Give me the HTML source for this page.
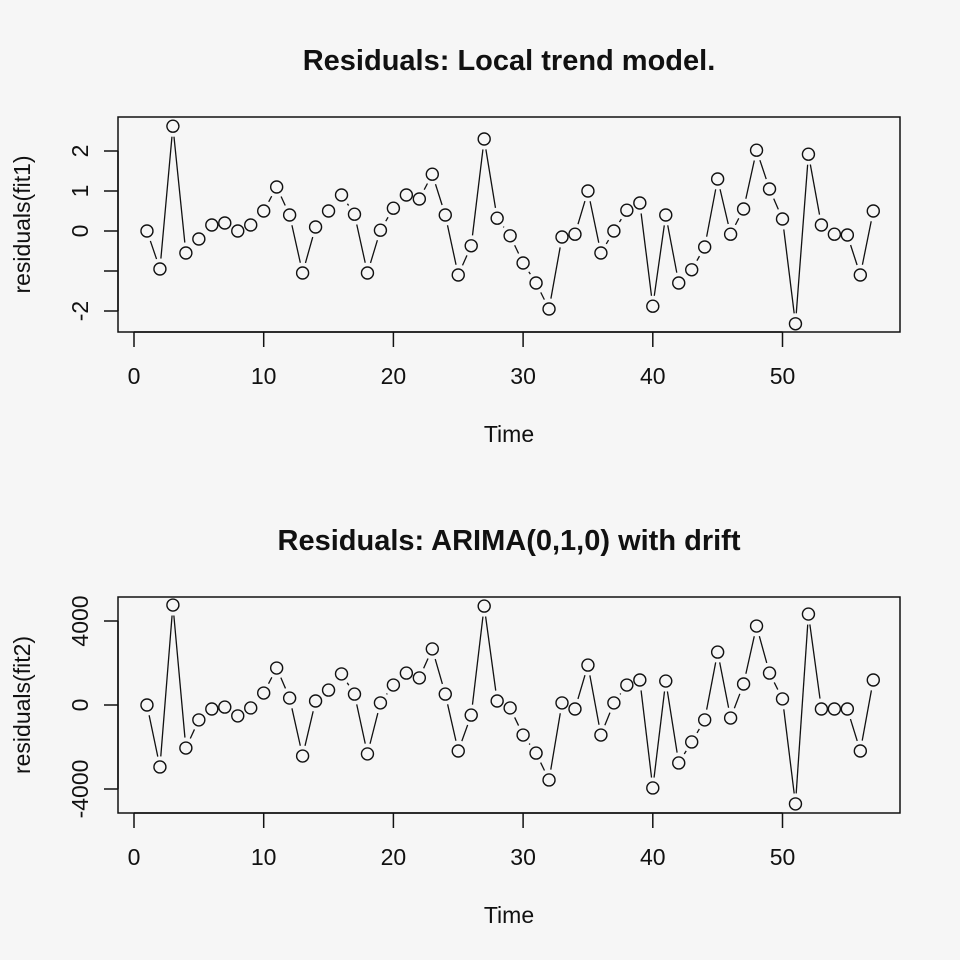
<!DOCTYPE html>
<html><head><meta charset="utf-8"><style>
html,body{margin:0;padding:0;background:#f6f6f6;}
svg{display:block;font-family:"Liberation Sans",sans-serif;}
</style></head><body>
<svg id="chart" width="960" height="960" viewBox="0 0 960 960"></svg>
<script>
const times = Array.from({length:57},(_,i)=>i+1);
const resid1 = [0,-0.95,2.62,-0.55,-0.2,0.15,0.2,0,0.15,0.5,1.1,0.4,-1.05,0.1,0.5,0.9,0.42,-1.05,0.02,0.57,0.9,0.8,1.42,0.4,-1.1,-0.37,2.3,0.32,-0.12,-0.8,-1.3,-1.95,-0.15,-0.08,1.0,-0.55,0,0.52,0.7,-1.88,0.4,-1.3,-0.97,-0.4,1.3,-0.08,0.55,2.02,1.05,0.3,-2.32,1.92,0.15,-0.08,-0.1,-1.1,0.5];
const resid2 = [0,-2950,4760,-2050,-710,-190,-100,-520,-140,570,1760,330,-2430,190,710,1480,520,-2330,100,950,1520,1290,2670,520,-2190,-480,4710,190,-140,-1430,-2290,-3570,100,-190,1900,-1430,100,950,1190,-3950,1140,-2760,-1760,-710,2520,-620,1000,3760,1520,290,-4710,4330,-190,-190,-190,-2190,1190];
const xTicks = [0,10,20,30,40,50];
const yTicks1 = [-2,-1,0,1,2];
const yLabels1 = ["-2","","0","1","2"];
const yTicks2 = [-4000,0,4000];
const yLabels2 = ["-4000","0","4000"];

const svg=document.getElementById('chart');
const NS='http://www.w3.org/2000/svg';
function mk(t,a){const e=document.createElementNS(NS,t);for(const k in a)e.setAttribute(k,a[k]);svg.appendChild(e);return e;}
const xs=v=>134+v*12.97;

function panel(p){
  const ys=v=>p.y0 - v*p.k;
  let e=mk('text',{x:509,y:p.titleY,'text-anchor':'middle','font-size':29,'font-weight':'bold',fill:'#111'});
  e.textContent=p.title;
  
  
  e=mk('rect',{x:118,y:p.top,width:782,height:p.bottom-p.top,fill:'none',stroke:'#111','stroke-width':1.5});
  
  
  e=mk('line',{x1:xs(0),x2:xs(50),y1:p.bottom,y2:p.bottom,stroke:'#111','stroke-width':1.5});
  
  
  xTicks.forEach(t=>{
    mk('line',{x1:xs(t),x2:xs(t),y1:p.bottom,y2:p.bottom+15,stroke:'#111','stroke-width':1.5});
    const tx=mk('text',{x:xs(t),y:p.bottom+52,'text-anchor':'middle','font-size':23,fill:'#111'});
    tx.textContent=t;
    
    
  });
  e=mk('text',{x:509,y:p.bottom+110,'text-anchor':'middle','font-size':23,fill:'#111'});
  e.textContent='Time';
  
  
  e=mk('line',{x1:118,x2:118,y1:ys(p.yt[0]),y2:ys(p.yt[p.yt.length-1]),stroke:'#111','stroke-width':1.5});
  
  
  p.yt.forEach((t,i)=>{
    const y=ys(t);
    mk('line',{x1:104,x2:118,y1:y,y2:y,stroke:'#111','stroke-width':1.5});
    if(p.yl[i]){
      const tx=mk('text',{x:82,y:y,'text-anchor':'middle','font-size':23,fill:'#111',transform:`rotate(-90 82 ${y})`,'dominant-baseline':'middle'});
      tx.textContent=p.yl[i];
      
      
    }
  });
  const cy=(p.top+p.bottom)/2;
  e=mk('text',{x:24,y:cy,'text-anchor':'middle','font-size':23,fill:'#111',transform:`rotate(-90 24 ${cy})`,'dominant-baseline':'middle'});
  e.textContent=p.ylab;
  
  
  const r=6, gap=10.5;
  for(let i=0;i<p.data.length-1;i++){
    const x1=xs(times[i]),y1=ys(p.data[i]),x2=xs(times[i+1]),y2=ys(p.data[i+1]);
    const dx=x2-x1,dy=y2-y1,L=Math.hypot(dx,dy);
    if(L<=2*gap) continue;
    const ux=dx/L,uy=dy/L;
    const s=mk('line',{x1:x1+ux*gap,y1:y1+uy*gap,x2:x2-ux*gap,y2:y2-uy*gap,stroke:'#111','stroke-width':1.3});
    
    
  }
  p.data.forEach((v,i)=>{
    const c=mk('circle',{cx:xs(times[i]),cy:ys(v),r:r,fill:'none',stroke:'#111','stroke-width':1.4});
    
    
  });
}
panel({id:'local-trend',title:'Residuals: Local trend model.',titleY:70,top:117,bottom:332,y0:231,k:40,data:resid1,yt:yTicks1,yl:yLabels1,ylab:'residuals(fit1)'});
panel({id:'arima',title:'Residuals: ARIMA(0,1,0) with drift',titleY:550,top:597,bottom:813,y0:705,k:84/4000,data:resid2,yt:yTicks2,yl:yLabels2,ylab:'residuals(fit2)'});
</script>
</body></html>
